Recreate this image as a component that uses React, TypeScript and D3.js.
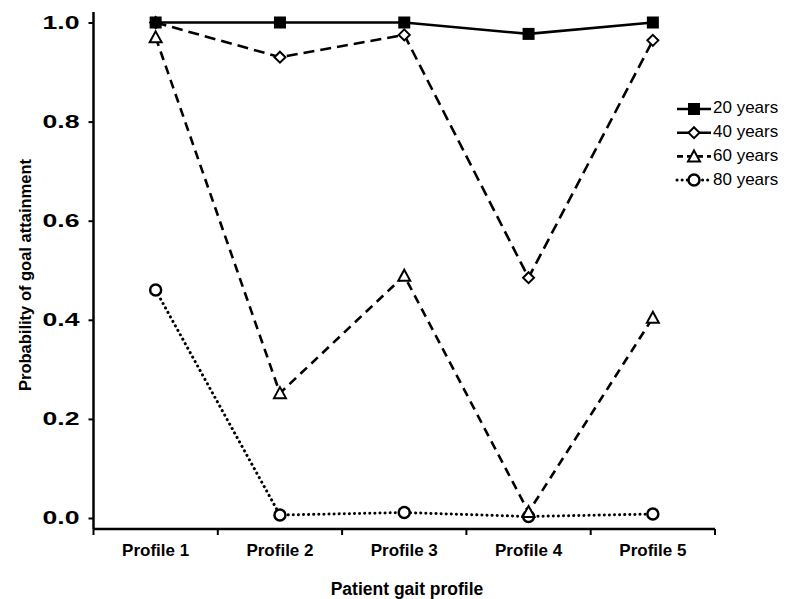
import React, { useEffect, useRef } from "react";
import * as d3 from "d3";

const WIDTH = 786;
const HEIGHT = 599;

// x categories
const profiles = ["Profile 1", "Profile 2", "Profile 3", "Profile 4", "Profile 5"];
// series values (probability of goal attainment)
const years20 = [1.0, 1.0, 1.0, 0.977, 1.0];
const years40 = [1.0, 0.93, 0.975, 0.485, 0.964];
const years60 = [0.97, 0.252, 0.489, 0.012, 0.404];
const years80 = [0.46, 0.006, 0.011, 0.003, 0.008];
const yTicks = [0, 0.2, 0.4, 0.6, 0.8, 1.0];

const seriesNames = ["20 years", "40 years", "60 years", "80 years"];
const seriesValues = [years20, years40, years60, years80];
const dashes = ["none", "11,6", "9,6", "0.1,5"];
const markers = ["square", "diamond", "triangle", "circle"];

const X0 = 93.5;
const X1 = 715;
const Y_TOP = 22.5;
const Y_ZERO = 518;
const X_AXIS_Y = 529;

const FONT = "Arial, 'Liberation Sans', Helvetica, sans-serif";

const Marker = ({ type, cx, cy }: { type: string; cx: number; cy: number }) => {
  if (type === "square")
    return <rect x={cx - 6} y={cy - 6} width={12} height={12} fill="#000" />;
  if (type === "diamond")
    return (
      <path
        d={`M${cx},${cy - 5.5}L${cx + 5.5},${cy}L${cx},${cy + 5.5}L${cx - 5.5},${cy}Z`}
        fill="#fff"
        stroke="#000"
        strokeWidth={2}
      />
    );
  if (type === "triangle")
    return (
      <path
        d={`M${cx},${cy - 6}L${cx + 6},${cy + 5}L${cx - 6},${cy + 5}Z`}
        fill="#fff"
        stroke="#000"
        strokeWidth={2}
      />
    );
  return <circle cx={cx} cy={cy} r={5.5} fill="#fff" stroke="#000" strokeWidth={2.5} />;
};

const App = () => {
  const yAxisRef = useRef<SVGGElement>(null);
  const xAxisRef = useRef<SVGGElement>(null);

  const xScale = d3.scaleBand().domain(profiles).range([X0, X1]).padding(0);
  const yScale = d3.scaleLinear().domain([0, 1]).range([Y_ZERO, Y_TOP]);
  const cx = (p: string) => (xScale(p) as number) + xScale.bandwidth() / 2;

  useEffect(() => {
    const gy = d3.select(yAxisRef.current);
    gy.selectAll("*").remove();
    gy.call(
      d3
        .axisLeft(yScale)
        .tickValues(yTicks)
        .tickFormat(d3.format(".1f"))
        .tickSize(5)
        .tickSizeOuter(0)
        .tickPadding(9)
    );
    gy.select(".domain").remove();
    gy.selectAll(".tick line").attr("stroke", "#000").attr("stroke-width", 2);
    gy.selectAll(".tick text")
      .attr("font-family", FONT)
      .attr("font-weight", "bold")
      .attr("font-size", 18)
      .attr("textLength", 37)
      .attr("lengthAdjust", "spacingAndGlyphs")
      .attr("fill", "#000");

    const gx = d3.select(xAxisRef.current);
    gx.selectAll("*").remove();
    gx.call(d3.axisBottom(xScale).tickSize(0).tickPadding(15));
    gx.select(".domain").remove();
    gx.selectAll(".tick text")
      .attr("font-family", FONT)
      .attr("font-weight", "bold")
      .attr("font-size", 17)
      .attr("fill", "#000");
  }, []);

  const boundaries = [...profiles.map((p) => xScale(p) as number), X1];

  const line = d3
    .line<number>()
    .x((_, i) => cx(profiles[i]))
    .y((d) => yScale(d));

  return (
    <svg
      width={WIDTH}
      height={HEIGHT}
      style={{ position: "absolute", left: 0, top: 0, background: "#fff" }}
    >
      <rect width={WIDTH} height={HEIGHT} fill="#fff" />

      {/* axis lines */}
      <line x1={X0} x2={X0} y1={12} y2={X_AXIS_Y} stroke="#000" strokeWidth={2.5} />
      <line x1={X0} x2={X1} y1={X_AXIS_Y} y2={X_AXIS_Y} stroke="#000" strokeWidth={2.5} />
      {boundaries.map((b, i) => (
        <line key={i} x1={b} x2={b} y1={X_AXIS_Y} y2={X_AXIS_Y + 6} stroke="#000" strokeWidth={2} />
      ))}
      <g ref={yAxisRef} transform={`translate(${X0},0)`} />
      <g ref={xAxisRef} transform={`translate(0,${X_AXIS_Y})`} />

      {/* axis titles */}
      <text
        x={407}
        y={595}
        textAnchor="middle"
        fontFamily={FONT}
        fontWeight="bold"
        fontSize={17.5}
      >
        Patient gait profile
      </text>
      <text
        transform={`translate(27,275) rotate(-90)`}
        textAnchor="middle"
        dominantBaseline="middle"
        fontFamily={FONT}
        fontWeight="bold"
        fontSize={16.5}
      >
        Probability of goal attainment
      </text>

      {/* series lines, drawn bottom to top */}
      {seriesValues
        .map((vals, si) => (
          <g key={seriesNames[si]}>
            <path
              d={line(vals) || ""}
              fill="none"
              stroke="#000"
              strokeWidth={si === 3 ? 3 : 2.6}
              strokeDasharray={dashes[si]}
              strokeLinecap={si === 3 ? "round" : "butt"}
            />
            {vals.map((v, i) => (
              <Marker key={i} type={markers[si]} cx={cx(profiles[i])} cy={yScale(v)} />
            ))}
          </g>
        ))
        .reverse()}

      {/* legend */}
      {seriesNames.map((name, i) => {
        const ly = 109 + i * 23.7;
        return (
          <g key={name}>
            <line
              x1={677}
              x2={711}
              y1={ly}
              y2={ly}
              stroke="#000"
              strokeWidth={i === 3 ? 3 : 2.6}
              strokeDasharray={i === 2 ? "6,4" : i === 3 ? "0.1,5" : "none"}
              strokeLinecap={i === 3 ? "round" : "butt"}
            />
            <Marker type={markers[i]} cx={694} cy={ly} />
            <text
              x={713}
              y={ly}
              dominantBaseline="middle"
              fontFamily={FONT}
              fontSize={17}
              fill="#000"
            >
              {name}
            </text>
          </g>
        );
      })}
    </svg>
  );
};

export default App;
